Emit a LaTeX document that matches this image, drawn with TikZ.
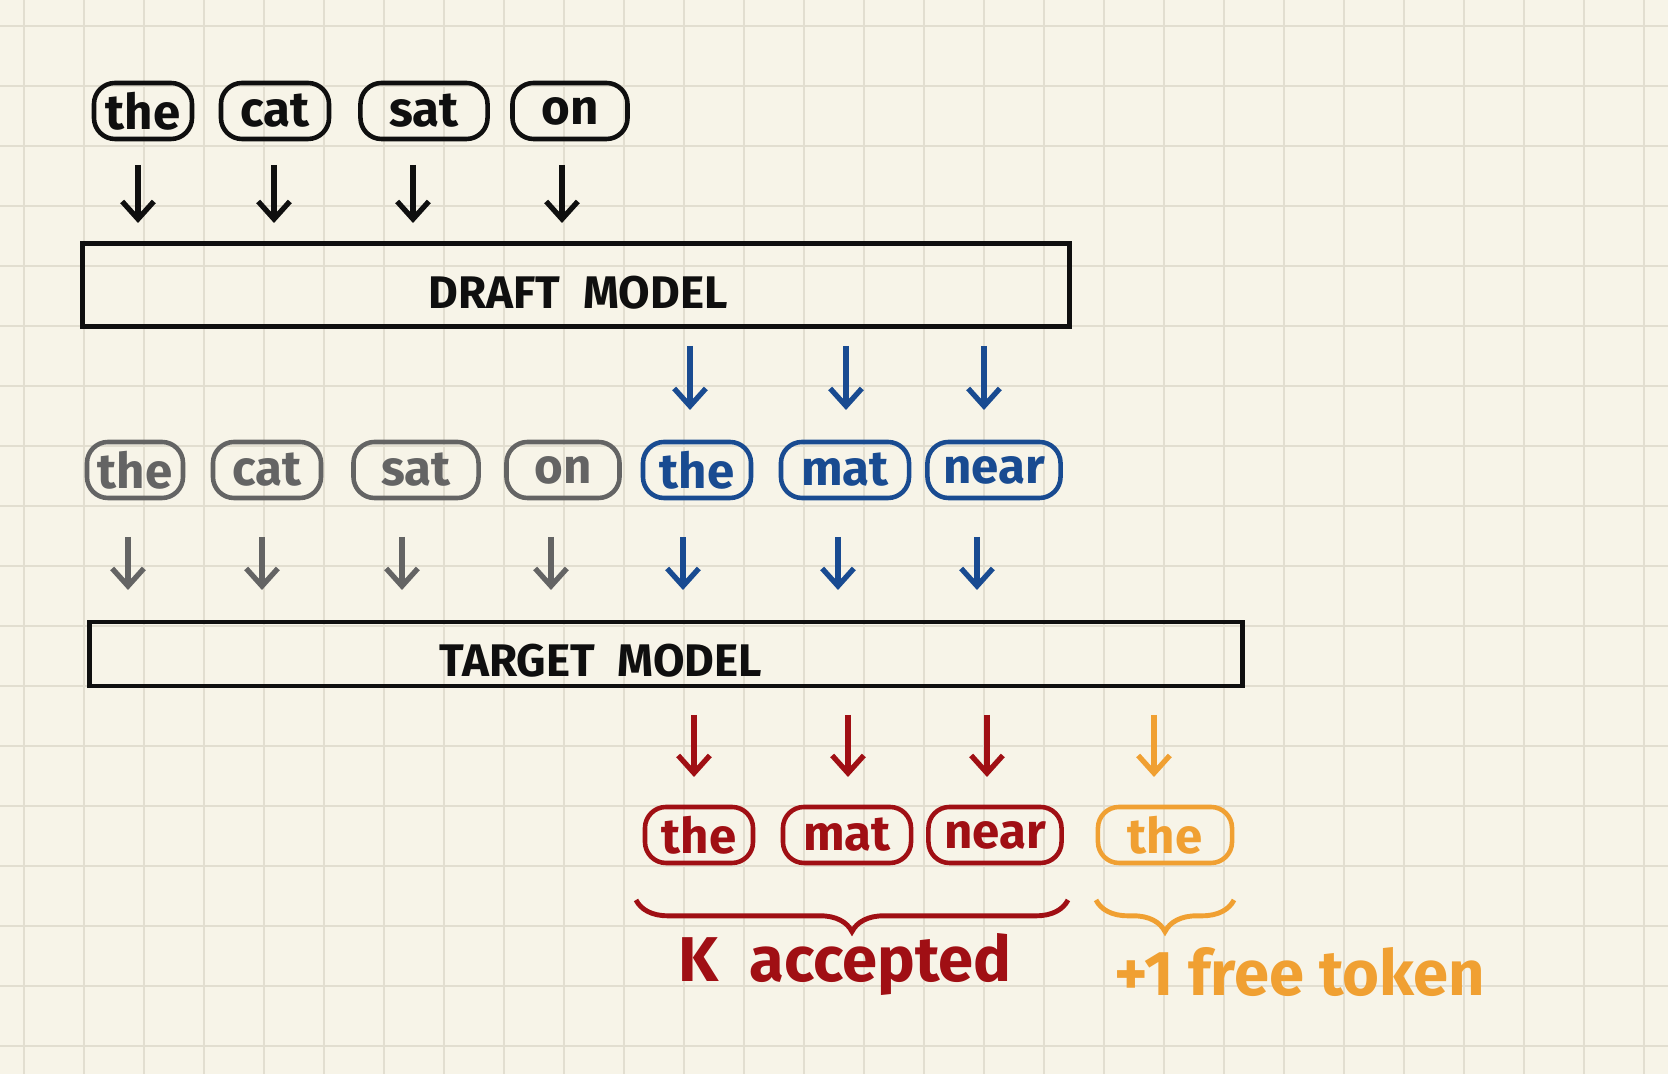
\documentclass[tikz,border=0pt]{standalone}
\usepackage{fontspec}
\setmainfont{Fira Sans}
\usetikzlibrary{arrows.meta,positioning,decorations.pathreplacing,calc}
\definecolor{paper}{RGB}{247,244,232}
\definecolor{gridgray}{RGB}{226,222,208}
\definecolor{inkblack}{RGB}{15,15,15}
\definecolor{inkgray}{RGB}{100,100,100}
\definecolor{inkblue}{RGB}{25,75,145}
\definecolor{inkred}{RGB}{160,15,20}
\definecolor{inkorange}{RGB}{240,160,50}

\begin{document}
\begin{tikzpicture}[x=0.01cm, y=-0.01cm,
    token/.style={rectangle, draw, rounded corners=6pt, line width=1.3pt,
                  minimum height=0.56cm, inner sep=2pt, font=\fontsize{14}{16}\selectfont\bfseries},
    model/.style={rectangle, draw=inkblack, line width=1.4pt},
    modellabel/.style={text=inkblack, font=\fontsize{13}{15}\selectfont\bfseries},
    feed/.style={-{Straight Barb[length=5pt,width=9pt]}, line width=1.5pt},
    bracket/.style={decorate, decoration={brace, mirror, amplitude=9pt}, line width=1.4pt},
    note/.style={font=\fontsize{18}{21}\selectfont\bfseries}
]
% Paper and grid
\fill[paper] (0,0) rectangle (1668,1074);
\useasboundingbox (0,0) rectangle (1668,1074);
\foreach \gx in {24,84,...,1668} \draw[gridgray, line width=0.8pt] (\gx,0) -- (\gx,1074);
\foreach \gy in {26,86,...,1074} \draw[gridgray, line width=0.8pt] (0,\gy) -- (1668,\gy);

% Prompt tokens
\node[token, draw=inkblack, text=inkblack, minimum width=0.98cm] (p0) at (143,111) {the};
\node[token, draw=inkblack, text=inkblack, minimum width=1.08cm] (p1) at (275,111) {cat};
\node[token, draw=inkblack, text=inkblack, minimum width=1.27cm] (p2) at (424,111) {sat};
\node[token, draw=inkblack, text=inkblack, minimum width=1.15cm] (p3) at (570,111) {on};

% Draft model
\node[model, minimum width=9.87cm, minimum height=0.83cm] (draft) at (576,285) {};
\node[modellabel] (draftlabel) at (578,293) {DRAFT\enspace MODEL};
\foreach \px in {138,274,413,562}
  \draw[feed, inkblack] (\px,165) -- (\px,223);

% Context + draft tokens
\node[token, draw=inkgray, text=inkgray, minimum width=0.96cm] (c0) at (135,470) {the};
\node[token, draw=inkgray, text=inkgray, minimum width=1.08cm] (c1) at (267,470) {cat};
\node[token, draw=inkgray, text=inkgray, minimum width=1.25cm] (c2) at (416,470) {sat};
\node[token, draw=inkgray, text=inkgray, minimum width=1.13cm] (c3) at (563,470) {on};
\node[token, draw=inkblue, text=inkblue, minimum width=1.08cm] (d0) at (697,470) {the};
\node[token, draw=inkblue, text=inkblue, minimum width=1.28cm] (d1) at (845,470) {mat};
\node[token, draw=inkblue, text=inkblue, minimum width=1.33cm] (d2) at (994,470) {near};
\draw[feed, inkblue] (690,346) -- (690,410);
\draw[feed, inkblue] (846,346) -- (846,410);
\draw[feed, inkblue] (984,346) -- (984,410);

% Target model
\node[model, minimum width=11.53cm, minimum height=0.64cm] (target) at (666,654) {};
\node[modellabel] (targetlabel) at (601,661) {TARGET\enspace MODEL};
\foreach \px in {128,262,402,551}
  \draw[feed, inkgray] (\px,537) -- (\px,590);
\foreach \px in {683,838,977}
  \draw[feed, inkblue] (\px,537) -- (\px,590);

% Verified tokens
\node[token, draw=inkred, text=inkred, minimum width=1.08cm] (v0) at (699,835) {the};
\node[token, draw=inkred, text=inkred, minimum width=1.28cm] (v1) at (847,835) {mat};
\node[token, draw=inkred, text=inkred, minimum width=1.33cm] (v2) at (995,835) {near};
\node[token, draw=inkorange, text=inkorange, minimum width=1.34cm] (bonus) at (1165,835) {the};
\foreach \px in {694,848,987}
  \draw[feed, inkred] (\px,715) -- (\px,777);
\draw[feed, inkorange] (1154,715) -- (1154,777);

% Braces
\coordinate (kl) at (636,900);
\coordinate (kr) at (1068,900);
\draw[bracket, inkred] (kl) -- (kr);
\node[note, text=inkred] (kacc) at (845,965) {K\enspace accepted};
\coordinate (fl) at (1096,900);
\coordinate (fr) at (1234,900);
\draw[bracket, inkorange] (fl) -- (fr);
\node[note, text=inkorange] (free) at (1300,972) {+1 free token};
\end{tikzpicture}
\end{document}
